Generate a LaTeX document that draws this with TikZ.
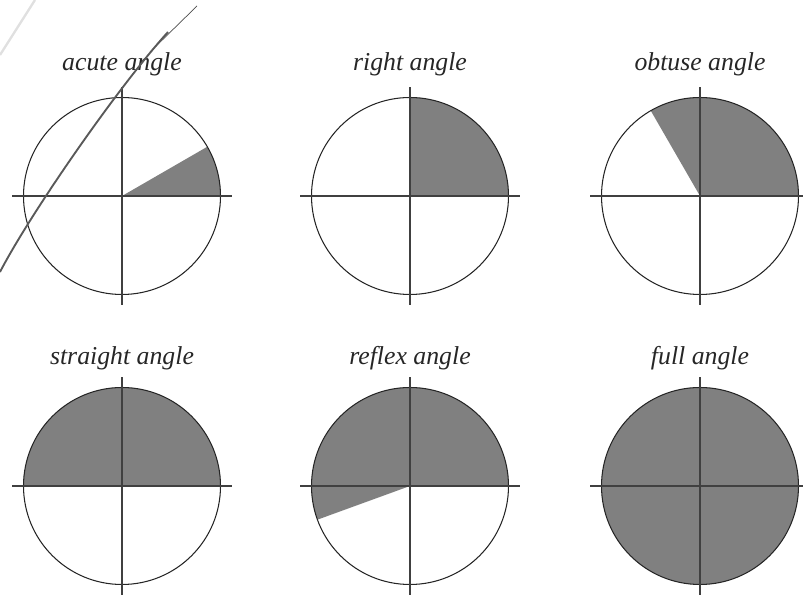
\documentclass[tikz,border=0pt]{standalone}
\usepackage{fontspec}
\setmainfont{Liberation Serif}
\usetikzlibrary{positioning}

\begin{document}
\begin{tikzpicture}[
x=0.03cm,y=0.03cm,
rim/.style={draw=black!85,line width=0.9pt},
axis/.style={draw=black!75,line width=1pt},
sector/.style={fill=black!50},
title/.style={font=\fontsize{22}{26}\selectfont\itshape,text=black!85,inner sep=0pt}
]
\useasboundingbox (0,0) rectangle (803,595);

% centres of the six circles
\coordinate (acute) at (122,399);
\coordinate (right) at (410,399);
\coordinate (obtuse) at (700,399);
\coordinate (straight) at (122,109);
\coordinate (reflex) at (410,109);
\coordinate (full) at (700,109);

% shaded angles
\fill[sector] (acute) -- +(0:98.5) arc[start angle=0,end angle=30,radius=98.5] -- cycle;
\fill[sector] (right) -- +(0:98.5) arc[start angle=0,end angle=90,radius=98.5] -- cycle;
\fill[sector] (obtuse) -- +(0:98.5) arc[start angle=0,end angle=120,radius=98.5] -- cycle;
\fill[sector] (straight) -- +(0:98.5) arc[start angle=0,end angle=180,radius=98.5] -- cycle;
\fill[sector] (reflex) -- +(0:98.5) arc[start angle=0,end angle=200,radius=98.5] -- cycle;
\fill[sector] (full) circle[radius=98.5];

% circles and axes
\foreach \c in {acute,right,obtuse,straight,reflex,full} {
  \draw[rim] (\c) circle[radius=98.5];
  \draw[axis] (\c) ++(-110,0) -- ++(220,0);
  \draw[axis] (\c) ++(0,-109) -- ++(0,218);
}

% labels
\node[title] (acutelbl) at (122,531) {acute angle};
\node[title] (rightlbl) at (410,531) {right angle};
\node[title] (obtuselbl) at (700,531) {obtuse angle};
\node[title] (straightlbl) at (122,237) {straight angle};
\node[title] (reflexlbl) at (410,237) {reflex angle};
\node[title] (fulllbl) at (700,237) {full angle};

% stray strokes
\draw[black!12,line width=2pt] (35,595) -- (0,540);
\draw[black!70,line width=0.6pt] (197,589) -- (150,543);
\draw[black!65,line width=1.6pt] (168,563) .. controls (118,508) and (30,381) .. (0,323);

\end{tikzpicture}
\end{document}
